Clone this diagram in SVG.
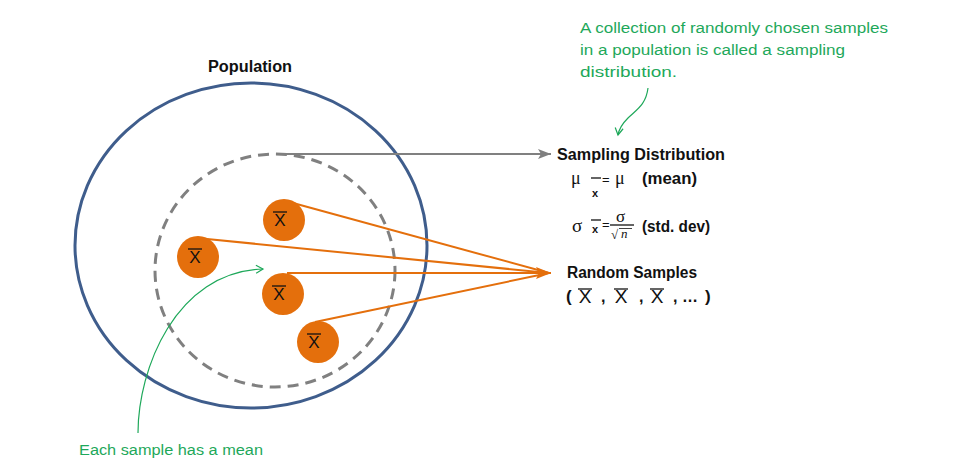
<svg xmlns="http://www.w3.org/2000/svg" width="960" height="465" viewBox="0 0 960 465">
<defs>
<style>
.b{font-family:"Liberation Sans",Arial,sans-serif;font-weight:bold;fill:#111}
.n{font-family:"Liberation Sans",Arial,sans-serif;fill:#111}
.s{font-family:"Liberation Serif","Times New Roman",serif;fill:#111}
.g{font-family:"Liberation Sans",Arial,sans-serif;fill:#1ea85a;font-size:15.5px}
.smp{fill:#e46f0c}
.bar{stroke:#111;stroke-width:1.3}
.ol{stroke:#e46f0c;stroke-width:2;fill:none}
.gc{stroke:#1ea85a;stroke-width:1.2;fill:none}
</style>
<marker id="ag" markerUnits="userSpaceOnUse" markerWidth="14" markerHeight="12" refX="13" refY="6" orient="auto">
<path d="M0,1 L13,6 L0,11 L3,6 Z" fill="#808080"/>
</marker>
<marker id="ao" markerUnits="userSpaceOnUse" markerWidth="16" markerHeight="14" refX="15" refY="7" orient="auto">
<path d="M0,1 L15,7 L0,13 L3,7 Z" fill="#e46f0c"/>
</marker>
<marker id="agr" markerUnits="userSpaceOnUse" markerWidth="10" markerHeight="10" refX="8" refY="5" orient="auto">
<path d="M1,1 L8,5 L1,9" fill="none" stroke="#1ea85a" stroke-width="1.2"/>
</marker>
</defs>
<rect width="960" height="465" fill="#ffffff"/>

<g id="population">
<ellipse cx="251" cy="245.5" rx="176" ry="162.5" fill="none" stroke="#3f5d8c" stroke-width="3"/>
<text class="b" x="250" y="72" font-size="16" text-anchor="middle" textLength="84" lengthAdjust="spacingAndGlyphs">Population</text>
</g>

<g id="sample-region">
<ellipse cx="275" cy="270.5" rx="120" ry="116.5" fill="none" stroke="#808080" stroke-width="3" stroke-dasharray="11,7"/>
</g>

<g id="connectors">
<line x1="277" y1="154" x2="551" y2="154" stroke="#808080" stroke-width="2" marker-end="url(#ag)"/>
<line class="ol" x1="293" y1="203" x2="549" y2="273"/>
<line class="ol" x1="207" y1="239" x2="549" y2="273"/>
<line class="ol" x1="287" y1="273" x2="551" y2="273" marker-end="url(#ao)"/>
<line class="ol" x1="315" y1="322" x2="549" y2="273"/>
<path class="gc" d="M138,433 C138,370 175,272 263,269" marker-end="url(#agr)"/>
<path class="gc" d="M648,88 C646,105 636,110 628,118 C622,124 619,129 618,135" marker-end="url(#agr)"/>
</g>

<g id="sample1">
<circle class="smp" cx="284" cy="220" r="21"/>
<text class="n" x="280" y="226" font-size="17" text-anchor="middle">X</text>
<line class="bar" x1="273" y1="212" x2="287" y2="212"/>
</g>
<g id="sample2">
<circle class="smp" cx="198" cy="257" r="21"/>
<text class="n" x="195" y="263" font-size="17" text-anchor="middle">X</text>
<line class="bar" x1="188" y1="249" x2="202" y2="249"/>
</g>
<g id="sample3">
<circle class="smp" cx="283" cy="294" r="21"/>
<text class="n" x="279" y="300" font-size="17" text-anchor="middle">X</text>
<line class="bar" x1="272" y1="286" x2="286" y2="286"/>
</g>
<g id="sample4">
<circle class="smp" cx="318" cy="342" r="21"/>
<text class="n" x="314" y="348" font-size="17" text-anchor="middle">X</text>
<line class="bar" x1="307" y1="334" x2="321" y2="334"/>
</g>

<g id="sampling-distribution">
<text class="b" x="557" y="160" font-size="16" textLength="168" lengthAdjust="spacingAndGlyphs">Sampling Distribution</text>
<text class="s" x="571" y="184" font-size="18">μ</text>
<line class="bar" x1="591" y1="178" x2="601" y2="178"/>
<text class="b" x="592" y="197" font-size="11">x</text>
<text class="n" x="602" y="184" font-size="13">=</text>
<text class="s" x="615" y="184" font-size="18">μ</text>
<text class="b" x="642" y="184" font-size="16" textLength="55" lengthAdjust="spacingAndGlyphs">(mean)</text>
<text class="s" x="572" y="232" font-size="19">σ</text>
<line class="bar" x1="591" y1="220" x2="601" y2="220"/>
<text class="b" x="592" y="233" font-size="11">x</text>
<text class="n" x="602" y="229" font-size="13">=</text>
<text class="s" x="616" y="222" font-size="17">σ</text>
<line class="bar" x1="610" y1="225" x2="634" y2="225" stroke-width="1"/>
<text class="s" x="611" y="239" font-size="13">√</text>
<line x1="619" y1="228.5" x2="632" y2="228.5" stroke="#111" stroke-width="0.8"/>
<text class="s" x="621" y="238" font-size="13" font-style="italic">n</text>
<text class="b" x="642" y="232" font-size="16" textLength="68" lengthAdjust="spacingAndGlyphs">(std. dev)</text>
</g>

<g id="random-samples">
<text class="b" x="567" y="278" font-size="16" textLength="130" lengthAdjust="spacingAndGlyphs">Random Samples</text>
<text class="b" x="566" y="302" font-size="17">(</text>
<text class="n" x="585" y="303" font-size="19" text-anchor="middle">X</text>
<line class="bar" x1="578" y1="289" x2="592" y2="289"/>
<text class="b" x="601" y="302" font-size="16">,</text>
<text class="n" x="621" y="303" font-size="19" text-anchor="middle">X</text>
<line class="bar" x1="614" y1="289" x2="628" y2="289"/>
<text class="b" x="639" y="302" font-size="16">,</text>
<text class="n" x="657" y="303" font-size="19" text-anchor="middle">X</text>
<line class="bar" x1="650" y1="289" x2="664" y2="289"/>
<text class="b" x="673" y="302" font-size="16">, …</text>
<text class="b" x="705" y="302" font-size="17">)</text>
</g>

<g id="note-top">
<text class="g" x="580" y="33" textLength="308" lengthAdjust="spacingAndGlyphs">A collection of randomly chosen samples</text>
<text class="g" x="580" y="55" textLength="265" lengthAdjust="spacingAndGlyphs">in a population is called a sampling</text>
<text class="g" x="580" y="77" textLength="97" lengthAdjust="spacingAndGlyphs">distribution.</text>
</g>

<g id="note-bottom">
<text class="g" x="79" y="455" textLength="184" lengthAdjust="spacingAndGlyphs">Each sample has a mean</text>
</g>
</svg>
